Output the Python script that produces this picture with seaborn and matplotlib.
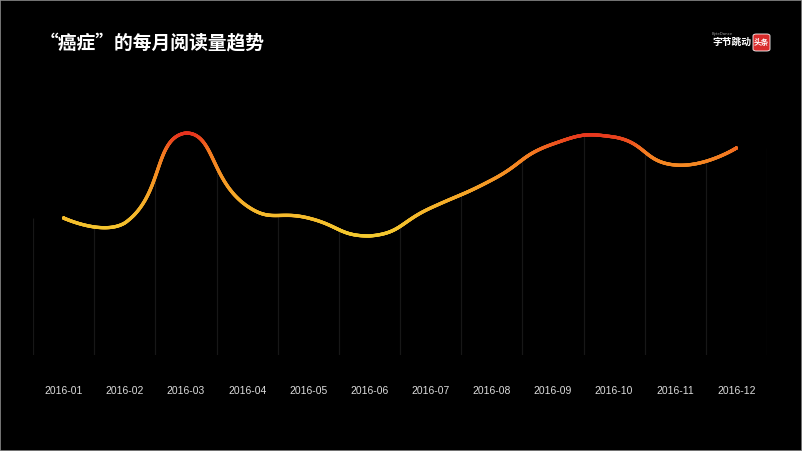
import numpy as np
import pandas as pd
import matplotlib
matplotlib.use("Agg")
import matplotlib.pyplot as plt
import seaborn as sns
from matplotlib.collections import LineCollection
from matplotlib.colors import LinearSegmentedColormap
from matplotlib.patches import FancyBboxPatch, Rectangle

# ---------------- data ----------------
months = ["2016-01", "2016-02", "2016-03", "2016-04", "2016-05", "2016-06",
          "2016-07", "2016-08", "2016-09", "2016-10", "2016-11", "2016-12"]
reads = [137, 132, 222, 149, 137, 119, 147, 175, 211, 218, 190, 207]
title = "“癌症”的每月阅读量趋势"
brand_cn = "字节跳动"
brand_en = "ByteDance"
app_name = "头条"

# ---------------- style ----------------
sns.set_theme(style="dark")
plt.rcParams['font.family'] = ['Noto Sans CJK SC', 'DejaVu Sans']

W, H = 802, 451
fig = plt.figure(figsize=(W / 100, H / 100), dpi=100, facecolor="black")
ax = fig.add_axes([33 / W, 1 - 355 / H, (767 - 33) / W, (355 - 120) / H])
ax.set_facecolor("black")
ax.set_xlim(-0.5, len(months) - 0.5)
ax.set_ylim(0, 235)


def echarts_smooth(xs, ys, sx, sy, smooth=0.5, n=80):
    """Bezier smoothing like ECharts line series (smooth: true)."""
    P = np.column_stack([np.asarray(xs, float) * sx, np.asarray(ys, float) * sy])
    lo, hi = P.min(axis=0), P.max(axis=0)
    out = [P[0:1]]
    cp0 = P[0].copy()
    for i in range(1, len(P)):
        p, prev = P[i], P[i - 1]
        v = None
        if i + 1 < len(P):
            nxt = P[i + 1]
            v = nxt - prev
            lp = np.linalg.norm(p - prev)
            ln = np.linalg.norm(nxt - p)
            r = ln / (ln + lp)
            cp1 = p - v * smooth * (1 - r)
        else:
            cp1 = p.copy()
        c0 = np.clip(cp0, lo, hi)
        c1 = np.clip(cp1, lo, hi)
        t = np.linspace(0, 1, n)[1:, None]
        seg = ((1 - t) ** 3) * prev + 3 * ((1 - t) ** 2) * t * c0 + 3 * (1 - t) * t ** 2 * c1 + t ** 3 * p
        out.append(seg)
        if v is not None:
            cp0 = p + v * smooth * r
    C = np.vstack(out)
    return C[:, 0] / sx, C[:, 1] / sy


xpos = np.arange(len(months))
px_per_cat = (767 - 33) / len(months)
cx, cy = echarts_smooth(xpos, reads, px_per_cat, 1.0)
df = pd.DataFrame({"x": cx, "y": cy})

# faint vertical separators between categories, reaching up to the curve
bounds = np.arange(-0.5, len(months), 1.0)
heights = np.interp(bounds, cx, cy)
ax.vlines(bounds, 0, heights, colors="#171717", lw=0.9, zorder=1)

# base line via seaborn
sns.lineplot(data=df, x="x", y="y", sort=False, ax=ax, color="#f28a22",
             lw=2.3, zorder=2, legend=False)

# gradient overlay (yellow at low values -> red at high values)
cmap = LinearSegmentedColormap.from_list(
    "heat", [(0.0, "#f4ca2f"), (0.3, "#f5b22a"), (0.55, "#f59624"),
             (0.8, "#f47a21"), (0.88, "#f0581f"), (0.95, "#e93d1e"),
             (1.0, "#e52a1e")])
pts = np.column_stack([cx, cy]).reshape(-1, 1, 2)
segs = np.concatenate([pts[:-1], pts[1:]], axis=1)
lc = LineCollection(segs, cmap=cmap, norm=plt.Normalize(min(reads), max(reads) + 2),
                    lw=2.4, capstyle="round", joinstyle="round", zorder=3)
lc.set_array((cy[:-1] + cy[1:]) / 2)
ax.add_collection(lc)

ax.set_xticks(xpos)
ax.set_xticklabels(months, family=["Liberation Sans", "DejaVu Sans"],
                   fontsize=7.5, color="#dcdcdc")
ax.set_yticks([])
ax.tick_params(axis="x", length=0, pad=22)
ax.set_xlabel("")
ax.set_ylabel("")
ax.grid(False)
for s in ax.spines.values():
    s.set_visible(False)

# title
fig.text(40 / W, 1 - 43 / H, title, color="white", fontsize=13.5,
         fontweight="bold", ha="left", va="center")

# logo
fig.text(712 / W, 1 - 34 / H, brand_en, color="#9a9a9a", fontsize=2.8,
         ha="left", va="center", family=["DejaVu Sans"])
fig.text(712 / W, 1 - 42 / H, brand_cn, color="white", fontsize=7,
         fontweight="bold", ha="left", va="center")
box = FancyBboxPatch((753 / W, 1 - 51 / H), 17 / W, 17 / H,
                     boxstyle="round,pad=0,rounding_size=0.004",
                     transform=fig.transFigure, facecolor="#d92b2b",
                     edgecolor="white", lw=0.6)
fig.patches.append(box)
fig.text(761.5 / W, 1 - 42.5 / H, app_name, color="white", fontsize=5.5,
         fontweight="bold", ha="center", va="center")

# thin slide border
fig.patches.append(Rectangle((0, 0), 1, 1, transform=fig.transFigure,
                             facecolor="none", edgecolor="#8a8a8a", lw=1.2))

fig.savefig("out.png", dpi=100, facecolor="black")
